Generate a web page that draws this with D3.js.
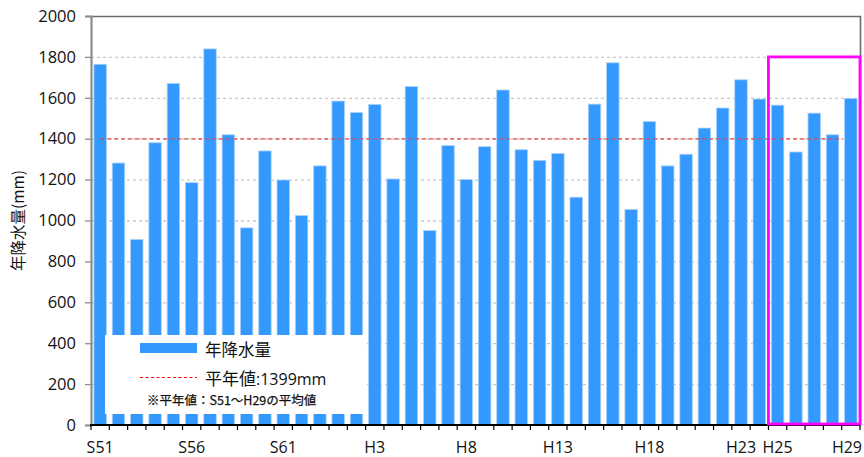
<!DOCTYPE html>
<html>
<head>
<meta charset="utf-8">
<script src="https://cdn.jsdelivr.net/npm/d3@7"></script>
<style>
  html, body { margin: 0; padding: 0; background: #fff; }
  svg { display: block; font-family: "Noto Sans CJK JP", "Noto Sans", sans-serif; }
</style>
</head>
<body>
<svg id="chart" width="864" height="457"></svg>
<script>
// Annual precipitation, S51 (1976) to H29 (2017)
const years = [
  "S51","S52","S53","S54","S55","S56","S57","S58","S59","S60","S61","S62","S63",
  "H1","H2","H3","H4","H5","H6","H7","H8","H9","H10","H11","H12","H13","H14","H15",
  "H16","H17","H18","H19","H20","H21","H22","H23","H24","H25","H26","H27","H28","H29"
];
const rainfall = [
  1764, 1281, 907, 1380, 1670, 1185, 1839, 1419, 964, 1340, 1198, 1024, 1267,
  1584, 1528, 1567, 1203, 1655, 951, 1366, 1200, 1361, 1638, 1346, 1294, 1328, 1114, 1569,
  1771, 1054, 1484, 1267, 1324, 1452, 1550, 1688, 1594, 1564, 1335, 1525, 1419, 1597
];
const normalValue = 1399;
const labeledYears = ["S51","S56","S61","H3","H8","H13","H18","H23","H25","H29"];
const yTicks = [0, 200, 400, 600, 800, 1000, 1200, 1400, 1600, 1800, 2000];
const highlightFrom = "H25";
const highlightTop = 1800;

const svg = d3.select("#chart");
const plotLeft = 91, plotRight = 860, plotTop = 16, plotBottom = 425;
const latin = "Open Sans, Noto Sans, sans-serif";

const x = d3.scaleBand().domain(years).range([plotLeft, plotRight]).paddingInner(0.32).paddingOuter(0.16);
const y = d3.scaleLinear().domain([0, 2000]).range([plotBottom, plotTop]);
const step = x.step();
const bandStart = d => x(d) - x.paddingInner() * step / 2;

// horizontal grid
svg.append("g")
  .selectAll("line")
  .data(yTicks.filter(v => v > 0 && v < 2000))
  .join("line")
  .attr("x1", plotLeft).attr("x2", plotRight)
  .attr("y1", d => y(d) + 0.5).attr("y2", d => y(d) + 0.5)
  .attr("stroke", "#c8c8c8").attr("stroke-width", 1.3)
  .attr("stroke-dasharray", "3,3");

// plot frame (top and right)
svg.append("path")
  .attr("d", `M${plotLeft},${plotTop + 0.5}H${plotRight + 0.5}V${plotBottom}`)
  .attr("fill", "none").attr("stroke", "#6b6b6b").attr("stroke-width", 1.6);

// bars
svg.append("g")
  .selectAll("rect")
  .data(years.map((yr, i) => ({ yr, v: rainfall[i] })))
  .join("rect")
  .attr("x", d => x(d.yr))
  .attr("width", x.bandwidth())
  .attr("y", d => y(d.v))
  .attr("height", d => y(0) - y(d.v))
  .attr("fill", "#3399ff")
  .attr("stroke", "#a9d1fa").attr("stroke-width", 0.8);

// normal-year line
svg.append("line")
  .attr("x1", x(years[0]) + x.bandwidth() / 2).attr("x2", x(years[years.length - 1]) - 2)
  .attr("y1", y(normalValue)).attr("y2", y(normalValue))
  .attr("stroke", "#e8474a").attr("stroke-width", 1.3)
  .attr("stroke-dasharray", "4,3");

// y axis
const yAxis = svg.append("g")
  .attr("transform", `translate(${plotLeft},0)`)
  .call(d3.axisLeft(y).tickValues(yTicks).tickSize(6).tickPadding(9).tickFormat(d3.format("d")));
yAxis.select(".domain").attr("stroke", "#8c8c8c").attr("stroke-width", 2.2);
yAxis.selectAll(".tick line").attr("stroke", "#8c8c8c").attr("stroke-width", 1.3);
yAxis.selectAll(".tick text")
  .attr("font-family", latin)
  .attr("font-size", 16.5).attr("fill", "#111");

// x axis
const xAxisG = svg.append("g").attr("transform", `translate(0,${plotBottom})`);
xAxisG.append("line")
  .attr("x1", plotLeft - 1).attr("x2", plotRight + 1)
  .attr("stroke", "#000").attr("stroke-width", 1.8);
xAxisG.selectAll("line.tk")
  .data(years.concat(["__end"]))
  .join("line").attr("class", "tk")
  .attr("x1", (d, i) => i < years.length ? bandStart(d) : plotRight)
  .attr("x2", (d, i) => i < years.length ? bandStart(d) : plotRight)
  .attr("y1", 0).attr("y2", 5)
  .attr("stroke", "#000").attr("stroke-width", 1.2);
const lastYear = years[years.length - 1];
xAxisG.selectAll("text")
  .data(labeledYears)
  .join("text")
  .attr("x", d => d === lastYear ? plotRight + 2 : x(d) + x.bandwidth() / 2)
  .attr("y", 28)
  .attr("text-anchor", d => d === lastYear ? "end" : "middle")
  .attr("font-family", latin)
  .attr("font-size", 16).attr("fill", "#111")
  .text(d => d);

// y axis title
svg.append("text")
  .attr("transform", `translate(24,${(plotTop + plotBottom) / 2}) rotate(-90)`)
  .attr("text-anchor", "middle")
  .attr("font-size", 15.5).attr("fill", "#111")
  .text("年降水量(mm)");

// highlighted recent years
svg.append("rect")
  .attr("x", bandStart(highlightFrom))
  .attr("y", y(highlightTop))
  .attr("width", plotRight - bandStart(highlightFrom))
  .attr("height", y(0) - y(highlightTop) - 1)
  .attr("fill", "none").attr("stroke", "#ff00ff").attr("stroke-width", 2.8);

// legend
const lg = svg.append("g");
lg.append("rect").attr("x", 105).attr("y", 335).attr("width", 260).attr("height", 79).attr("fill", "#fff");
lg.append("rect").attr("x", 140).attr("y", 343).attr("width", 57).attr("height", 10).attr("fill", "#3399ff");
lg.append("text").attr("x", 205).attr("y", 356).attr("font-size", 16.5).attr("fill", "#111").text("年降水量");
lg.append("line").attr("x1", 140).attr("x2", 197).attr("y1", 377.5).attr("y2", 377.5)
  .attr("stroke", "#ff0000").attr("stroke-width", 1.2).attr("stroke-dasharray", "3,2.5");
const t2 = lg.append("text").attr("x", 205).attr("y", 385).attr("fill", "#111");
t2.append("tspan").attr("font-size", 17).text("平年値");
t2.append("tspan").attr("font-size", 16).attr("font-family", latin).text(":1399mm");
lg.append("text").attr("x", 147).attr("y", 405).attr("font-size", 12.5)
  .attr("fill", "#111").attr("stroke", "#111").attr("stroke-width", 0.25)
  .text("※平年値：S51～H29の平均値");
</script>
</body>
</html>
